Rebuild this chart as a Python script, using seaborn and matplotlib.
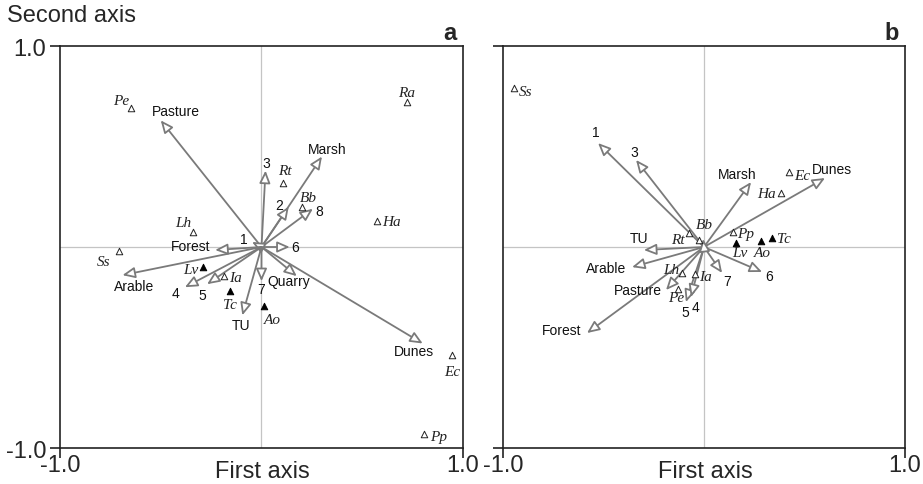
import matplotlib
matplotlib.use("Agg")
import matplotlib.pyplot as plt
import seaborn as sns
import pandas as pd

# ---------------- data ----------------
# Panel a: environmental / trait vectors (arrow tips)
a_env_names = ["Pasture", "Marsh", "3", "2", "8", "6", "1", "Forest", "Arable",
               "4", "5", "TU", "7", "Quarry", "Dunes"]
a_env_x = [-0.50, 0.30, 0.02, 0.135, 0.255, 0.14, -0.047, -0.23, -0.69,
           -0.38, -0.27, -0.095, 0.0, 0.175, 0.80]
a_env_y = [0.63, 0.45, 0.38, 0.20, 0.19, 0.0, 0.025, -0.015, -0.14,
           -0.20, -0.185, -0.34, -0.17, -0.145, -0.48]

# Panel a: species scores
a_sp_names = ["Pe", "Ra", "Rt", "Bb", "Ha", "Lh", "Ss", "Lv", "Ia", "Tc", "Ao", "Ec", "Pp"]
a_sp_x = [-0.648, 0.72, 0.107, 0.20, 0.573, -0.34, -0.707, -0.29, -0.186, -0.156, 0.01, 0.946, 0.806]
a_sp_y = [0.69, 0.72, 0.32, 0.20, 0.13, 0.075, -0.02, -0.10, -0.145, -0.219, -0.294, -0.537, -0.93]
a_sp_filled = [False, False, False, False, False, False, False, True, False, True, True, False, False]

# Panel b: environmental / trait vectors
b_env_names = ["1", "3", "Marsh", "Dunes", "TU", "Arable", "Pasture", "Forest",
               "5", "4", "7", "6", "8"]
b_env_x = [-0.527, -0.338, 0.234, 0.602, -0.299, -0.358, -0.189, -0.582,
           -0.09, -0.065, 0.09, 0.289, -0.005]
b_env_y = [0.517, 0.433, 0.323, 0.343, -0.015, -0.10, -0.214, -0.428,
           -0.274, -0.249, -0.129, -0.124, 0.04]

# Panel b: species scores
b_sp_names = ["Ss", "Ec", "Ha", "Bb", "Rt", "Pp", "Lv", "Ao", "Tc", "Lh", "Ia", "Pe"]
b_sp_x = [-0.945, 0.423, 0.383, -0.025, -0.075, 0.144, 0.159, 0.284, 0.338, -0.109, -0.045, -0.129]
b_sp_y = [0.791, 0.373, 0.269, 0.035, 0.070, 0.075, 0.020, 0.030, 0.045, -0.129, -0.134, -0.209]
b_sp_filled = [False, False, False, False, False, False, True, True, True, False, False, False]

# ---------------- label layout (pixel offsets from point, ha) ----------------
a_env_lab = {"Pasture": (15, 9, "center"), "Marsh": (5, 8, "center"), "3": (1, 8, "center"),
             "2": (-10, 2, "center"), "8": (2, -2, "left"), "6": (2, 0, "left"),
             "1": (-8, 3, "center"), "Forest": (-5, 4, "right"), "Arable": (12, -11, "center"),
             "4": (-9, -6, "center"), "5": (-5, -11, "center"), "TU": (-1, -10, "center"),
             "7": (0, -8, "center"), "Quarry": (-8, -5, "center"), "Dunes": (-9, -8, "center")}
a_sp_lab = {"Pe": (-10, 8, "center"), "Ra": (0, 10, "center"), "Rt": (2, 12, "center"),
            "Bb": (7, 9, "center"), "Ha": (5, -1, "left"), "Lh": (-10, 9, "center"),
            "Ss": (-15, -10, "center"), "Lv": (-12, -2, "center"), "Ia": (5, -1, "left"),
            "Tc": (0, -13, "center"), "Ao": (9, -13, "center"), "Ec": (0, -17, "center"),
            "Pp": (6, -3, "left")}
b_env_lab = {"1": (-2, 11, "center"), "3": (-2, 8, "center"), "Marsh": (-14, 8, "center"),
             "Dunes": (7, 9, "center"), "TU": (-5, 12, "center"), "Arable": (-6, -1, "right"),
             "Pasture": (-4, 0, "right"), "Forest": (-6, 3, "right"), "5": (-1, -10, "center"),
             "4": (5, -10, "center"), "7": (5, -8, "center"), "6": (7, -4, "center"),
             "8": None}
b_sp_lab = {"Ss": (5, -3, "left"), "Ec": (5, -3, "left"), "Ha": (-5, -1, "right"),
            "Bb": (5, 15, "center"), "Rt": (-11, -7, "center"), "Pp": (4, -2, "left"),
            "Lv": (4, -10, "center"), "Ao": (1, -12, "center"), "Tc": (5, -1, "left"),
            "Lh": (-11, 3, "center"), "Ia": (4, -3, "left"), "Pe": (-2, -8, "center")}

# ---------------- style ----------------
sns.set_style("white")
plt.rcParams["font.family"] = ["Liberation Sans", "DejaVu Sans"]
ARROW_C = "#7a7a7a"
SANS = ["Liberation Sans", "DejaVu Sans"]
SERIF = ["Liberation Serif", "DejaVu Serif"]

fig = plt.figure(figsize=(9.23, 4.85), dpi=100)
axA = fig.add_axes([60 / 923, 1 - 449 / 485, 403 / 923, 402 / 485])
axB = fig.add_axes([503 / 923, 1 - 449 / 485, 402 / 923, 402 / 485])


def draw_panel(ax, env_n, env_x, env_y, env_lab, sp_n, sp_x, sp_y, sp_f, sp_lab):
    ax.set_xlim(-1, 1)
    ax.set_ylim(-1, 1)
    ax.axhline(0, color="#c4c4c4", lw=0.9, zorder=0)
    ax.axvline(0, color="#c4c4c4", lw=0.9, zorder=0)
    for n, x, y in zip(env_n, env_x, env_y):
        ax.annotate("", xy=(x, y), xytext=(0, 0),
                    arrowprops=dict(arrowstyle="-|>,head_length=0.75,head_width=0.33",
                                    fc="white", ec=ARROW_C, lw=1.3,
                                    shrinkA=0, shrinkB=0, mutation_scale=10),
                    zorder=2)
        lab = env_lab.get(n)
        if lab is not None:
            dx, dy, ha = lab
            ax.annotate(n, xy=(x, y), xytext=(dx, dy), textcoords="offset pixels",
                        ha=ha, va="center", fontsize=10, family=SANS, color="#111111",
                        zorder=4)
    df = pd.DataFrame({"x": sp_x, "y": sp_y, "filled": sp_f})
    sns.scatterplot(data=df[~df["filled"]], x="x", y="y", marker="^", s=22,
                    facecolor="white", edgecolor="#222222", linewidth=0.7, ax=ax, zorder=3)
    sns.scatterplot(data=df[df["filled"]], x="x", y="y", marker="^", s=22,
                    color="black", edgecolor="black", linewidth=0.7, ax=ax, zorder=3)
    for n, x, y in zip(sp_n, sp_x, sp_y):
        dx, dy, ha = sp_lab[n]
        ax.annotate(n, xy=(x, y), xytext=(dx, dy), textcoords="offset pixels",
                    ha=ha, va="center", fontsize=11, family=SERIF, style="italic",
                    color="#222222", zorder=4)
    for s in ax.spines.values():
        s.set_visible(True)
        s.set_color("#222222")
        s.set_linewidth(1.2)
    ax.set_xticks([-1, 1])
    ax.set_xticklabels(["-1.0", "1.0"], fontsize=17)
    ax.set_yticks([-1, 1])
    ax.tick_params(direction="out", length=7, width=1.2, color="#222222",
                   bottom=True, left=True)
    ax.tick_params(axis="x", pad=-3)
    ax.tick_params(axis="y", pad=3)
    ax.set_xlabel("")
    ax.set_ylabel("")


draw_panel(axA, a_env_names, a_env_x, a_env_y, a_env_lab,
           a_sp_names, a_sp_x, a_sp_y, a_sp_filled, a_sp_lab)
draw_panel(axB, b_env_names, b_env_x, b_env_y, b_env_lab,
           b_sp_names, b_sp_x, b_sp_y, b_sp_filled, b_sp_lab)

axA.set_yticklabels(["-1.0", "1.0"], fontsize=17)
axB.set_yticklabels([])

fig.text(262 / 923, 1 - 472 / 485, "First axis", fontsize=17, ha="center", va="center")
fig.text(705 / 923, 1 - 472 / 485, "First axis", fontsize=17, ha="center", va="center")
fig.text(7 / 923, 1 - 16 / 485, "Second axis", fontsize=17, ha="left", va="center")
fig.text(456 / 923, 1 - 33 / 485, "a", fontsize=17, fontweight="bold", ha="right", va="center")
fig.text(899 / 923, 1 - 33 / 485, "b", fontsize=17, fontweight="bold", ha="right", va="center")

fig.savefig("out.png", dpi=100)
